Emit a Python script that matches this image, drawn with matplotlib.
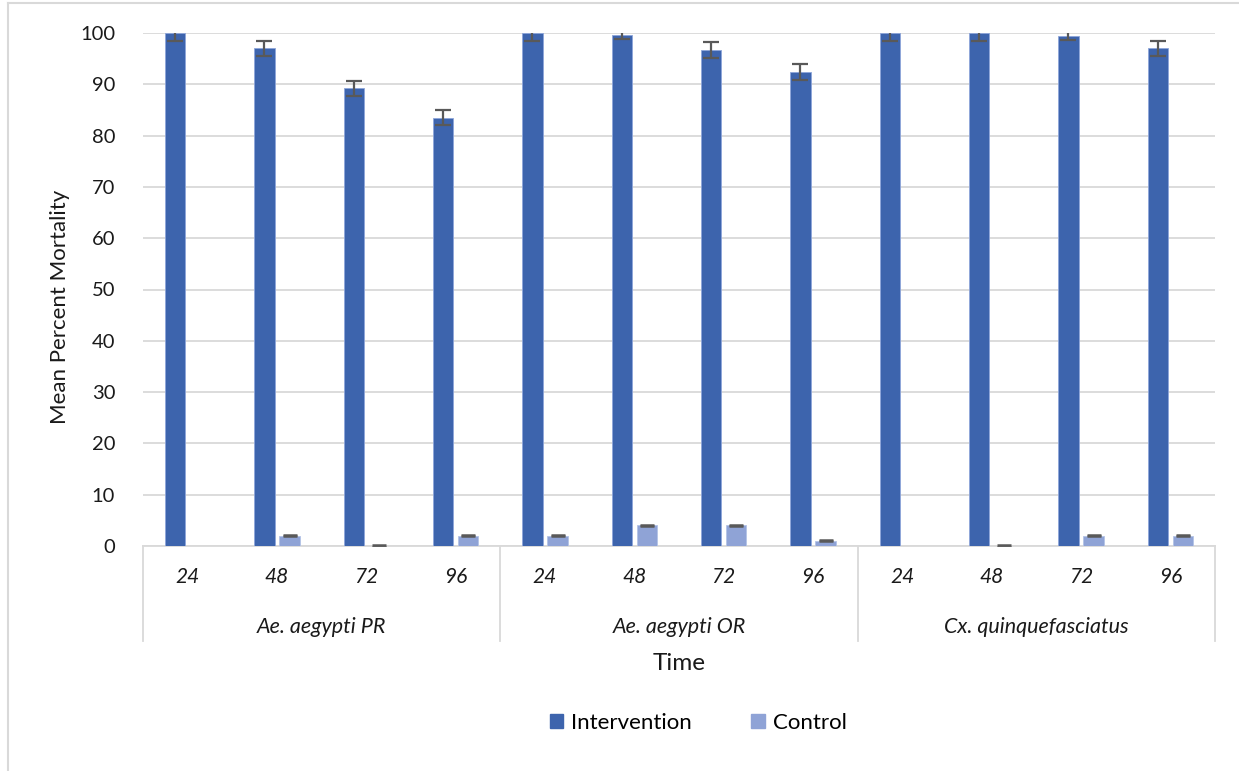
import matplotlib
matplotlib.use("Agg")
import matplotlib.pyplot as plt
import numpy as np
from matplotlib.lines import Line2D
from matplotlib.patches import Patch

plt.rcParams['font.family'] = ['Lato', 'DejaVu Sans']

groups = ["Ae. aegypti PR", "Ae. aegypti OR", "Cx. quinquefasciatus"]
times = ["24", "48", "72", "96"]
intervention = [100, 97, 89.2, 83.5, 100, 99.6, 96.7, 92.4, 100, 100, 99.5, 97]
intervention_err = [1.5, 1.5, 1.5, 1.5, 1.5, 0.8, 1.6, 1.6, 1.5, 1.5, 0.8, 1.5]
control = [0, 2, 0, 2, 2, 4, 4, 1, 0, 0, 2, 2]
control_err = [np.nan, 0.1, 0.1, 0.1, 0.1, 0.1, 0.1, 0.1, np.nan, 0.1, 0.1, 0.1]

W, H = 1239, 771
fig = plt.figure(figsize=(W / 100, H / 100), dpi=100)
L, R, T, B = 143, 1215, 33, 546
ax = fig.add_axes([L / W, 1 - B / H, (R - L) / W, (B - T) / H])

c_int = "#3D64AD"
c_ctl = "#8FA3D6"
ecol = "#595959"
grid = "#D9D9D9"

n = len(intervention)
x = np.arange(n)
bw = 0.225
off = 0.14
ax.bar(x - off, intervention, bw, color=c_int, edgecolor="#8EA6DA", linewidth=0.6, zorder=3)
ax.bar(x + off, control, bw, color=c_ctl, edgecolor="#B4C3E6", linewidth=0.6, zorder=3)
ax.errorbar(x - off, intervention, yerr=intervention_err, fmt="none", ecolor=ecol,
            elinewidth=1.6, capsize=5.5, capthick=1.6, zorder=4)
ax.errorbar(x + off, control, yerr=control_err, fmt="none", ecolor=ecol,
            elinewidth=1.2, capsize=5, capthick=1.8, zorder=4)

ax.set_xlim(-0.5, n - 0.5)
ax.set_ylim(0, 100)
ax.set_yticks(np.arange(0, 101, 10))
ax.tick_params(axis="y", length=0, pad=20, labelsize=14.5, labelcolor="#1a1a1a")
ax.set_xticks([])
ax.grid(axis="y", color=grid, linewidth=1.3, zorder=0)
for s in ["top", "right", "left"]:
    ax.spines[s].set_visible(False)
ax.spines["bottom"].set_color(grid)
ax.spines["bottom"].set_linewidth(1.3)

hpx = B - T
def fy(px):
    return -(px - B) / hpx

tr = ax.get_xaxis_transform()
for i in range(n):
    ax.text(i, fy(577), times[i % 4], transform=tr, ha="center", va="center",
            fontsize=15, style="italic", color="#1a1a1a")
for g, name in enumerate(groups):
    ax.text(g * 4 + 1.5, fy(627), name, transform=tr, ha="center", va="center",
            fontsize=15.5, style="italic", color="#1a1a1a")
for g in range(4):
    ax.plot([g * 4 - 0.5, g * 4 - 0.5], [0, fy(641)], transform=tr, color=grid,
            linewidth=1.3, clip_on=False)

ax.text(5.5, fy(663), "Time", transform=tr, ha="center", va="center", fontsize=17.5, color="#1a1a1a")
fig.text(60 / W, 1 - 307 / H, "Mean Percent Mortality", rotation=90, ha="center", va="center",
         fontsize=16, color="#1a1a1a")

handles = [Patch(facecolor=c_int, edgecolor=c_int), Patch(facecolor=c_ctl, edgecolor=c_ctl)]
fig.legend(handles, ["Intervention", "Control"], loc="center", bbox_to_anchor=(698 / W, 1 - 723 / H),
           ncol=2, frameon=False, fontsize=16, handlelength=0.6, handleheight=0.6,
           columnspacing=2.7, handletextpad=0.35)

fig.add_artist(Line2D([8 / W, 8 / W], [0, 1 - 3 / H], color=grid, linewidth=1.5))
fig.add_artist(Line2D([8 / W, 1], [1 - 3 / H, 1 - 3 / H], color=grid, linewidth=1.5))

fig.savefig("out.png", dpi=100)
